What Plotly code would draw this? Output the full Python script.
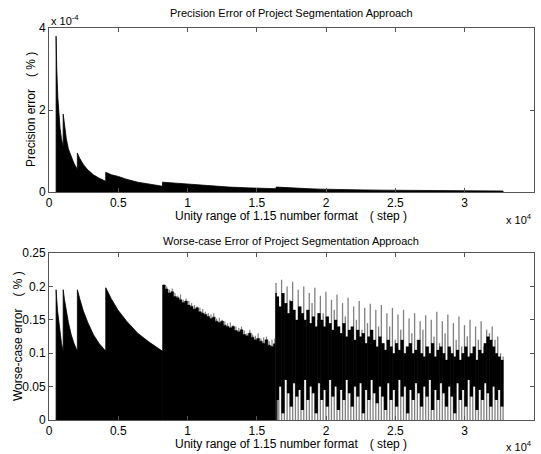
import plotly.graph_objects as go

# ---------------- data ----------------
# Top panel: upper envelope of precision error (units of 1e-4 %)
prec_x = [512, 560, 640, 720, 800, 900, 1023,
          1024, 1100, 1250, 1400, 1600, 1800, 2047,
          2048, 2200, 2500, 2800, 3200, 3600, 4095,
          4096, 4500, 5000, 5600, 6400, 7200, 8191,
          8192, 9000, 10000, 11500, 13000, 14500, 16383,
          16384, 16800, 17400, 18000, 18800, 19600, 20600, 21600,
          22800, 24000, 25500, 27000, 28500, 30000, 31500, 32768]
prec_y = [3.8, 3.0, 2.3, 1.85, 1.55, 1.3, 1.1,
          1.9, 1.65, 1.3, 1.05, 0.85, 0.7, 0.55,
          0.95, 0.83, 0.66, 0.54, 0.42, 0.34, 0.26,
          0.48, 0.42, 0.38, 0.31, 0.24, 0.2, 0.14,
          0.24, 0.22, 0.19, 0.15, 0.12, 0.1, 0.08,
          0.12, 0.11, 0.1, 0.09, 0.08, 0.07, 0.06, 0.055,
          0.05, 0.045, 0.04, 0.035, 0.03, 0.03, 0.025, 0.025]

# Bottom panel: worst-case error (%), segments 1-4 envelope
wc_x = [512, 560, 620, 700, 800, 900, 1023,
        1024, 1120, 1240, 1400, 1600, 1800, 2047,
        2048, 2240, 2480, 2800, 3200, 3600, 4095,
        4096, 4480, 4960, 5600, 6400, 7200, 8191]
wc_y = [0.195, 0.18, 0.163, 0.146, 0.128, 0.115, 0.103,
        0.195, 0.18, 0.163, 0.146, 0.128, 0.115, 0.103,
        0.195, 0.18, 0.163, 0.146, 0.128, 0.115, 0.103,
        0.198, 0.182, 0.165, 0.148, 0.13, 0.117, 0.103]

# segment 5 (8192-16383): black body top and grey spike tops
seg5_x = list(range(8192, 16384, 200)) + [16383]
seg5_top = [0.202, 0.196, 0.19, 0.192, 0.185, 0.183, 0.18, 0.176, 0.178, 0.172,
            0.17, 0.166, 0.168, 0.162, 0.16, 0.158, 0.155, 0.152, 0.154, 0.148,
            0.146, 0.148, 0.142, 0.14, 0.138, 0.14, 0.134, 0.132, 0.135, 0.128,
            0.126, 0.13, 0.124, 0.12, 0.122, 0.118, 0.115, 0.12, 0.112, 0.11,
            0.114, 0.106, 0.108]
seg5_grey = [0.203, 0.2, 0.195, 0.197, 0.19, 0.186, 0.188, 0.18, 0.182, 0.178,
             0.175, 0.172, 0.17, 0.168, 0.166, 0.162, 0.16, 0.158, 0.16, 0.152,
             0.153, 0.15, 0.148, 0.145, 0.146, 0.142, 0.14, 0.138, 0.14, 0.134,
             0.13, 0.135, 0.128, 0.126, 0.13, 0.122, 0.124, 0.125, 0.118, 0.12,
             0.122, 0.112, 0.1]

# segment 6 (16384-32768): noisy spikes
seg6_x = list(range(16384, 32768, 200)) + [32768]
seg6_peak = [0.205, 0.21, 0.2, 0.207, 0.195, 0.2, 0.19, 0.198, 0.186, 0.192,
             0.18, 0.188, 0.175, 0.183, 0.17, 0.178, 0.168, 0.174, 0.165, 0.172,
             0.16, 0.168, 0.158, 0.165, 0.152, 0.16, 0.148, 0.157, 0.15, 0.162,
             0.148, 0.158, 0.145, 0.155, 0.142, 0.15, 0.14, 0.148, 0.135, 0.14,
             0.125, 0.095]
seg6_valley = [0.17, 0.16, 0.18, 0.15, 0.17, 0.14, 0.175, 0.15, 0.16, 0.13,
               0.165, 0.14, 0.155, 0.12, 0.15, 0.135, 0.145, 0.12, 0.14, 0.115,
               0.14, 0.12, 0.135, 0.11, 0.13, 0.12, 0.135, 0.11, 0.125, 0.115,
               0.13, 0.105, 0.12, 0.11, 0.125, 0.1, 0.12, 0.11, 0.13, 0.12, 0.1]
seg6_core_top = [0.185, 0.17, 0.19, 0.175, 0.16, 0.178, 0.165, 0.15, 0.17, 0.16,
                 0.15, 0.165, 0.145, 0.155, 0.14, 0.16, 0.15, 0.14, 0.155, 0.145,
                 0.135, 0.15, 0.14, 0.13, 0.145, 0.125, 0.135, 0.14, 0.12, 0.135,
                 0.125, 0.13, 0.115, 0.125, 0.135, 0.12, 0.11, 0.125, 0.115, 0.105,
                 0.12, 0.11, 0.1, 0.115, 0.105, 0.12, 0.1, 0.11, 0.115, 0.1,
                 0.105, 0.12, 0.1, 0.095, 0.11, 0.1, 0.115, 0.095, 0.105, 0.11,
                 0.1, 0.09, 0.11, 0.1, 0.095, 0.105, 0.09, 0.1, 0.11, 0.095,
                 0.1, 0.11, 0.09, 0.105, 0.1, 0.115, 0.125, 0.12, 0.11, 0.1,
                 0.095, 0.09, 0.09]
seg6_core_low = [0.03, 0.05, 0.01, 0.06, 0.04, 0.02, 0.055, 0.035, 0.045, 0.015,
                 0.06, 0.03, 0.05, 0.04, 0.01, 0.055, 0.03, 0.045, 0.02, 0.06,
                 0.035, 0.05, 0.015, 0.045, 0.03, 0.06, 0.04, 0.02, 0.05, 0.035,
                 0.055, 0.01, 0.045, 0.03, 0.06, 0.04, 0.025, 0.05, 0.035, 0.015,
                 0.055, 0.03, 0.045, 0.02, 0.06, 0.035, 0.05, 0.01, 0.045, 0.03,
                 0.055, 0.04, 0.02, 0.05, 0.035, 0.06, 0.015, 0.045, 0.03, 0.055,
                 0.04, 0.02, 0.05, 0.035, 0.01, 0.055, 0.03, 0.045, 0.02, 0.06,
                 0.035, 0.05, 0.015, 0.045, 0.03, 0.055, 0.04, 0.02, 0.05, 0.03,
                 0.045, 0.02, 0.03]

x_tickvals = [0, 5000, 10000, 15000, 20000, 25000, 30000, 35000]
x_ticktext = ["0", "0.5", "1", "1.5", "2", "2.5", "3", "3.5"]
top_tickvals = [0, 2e-4, 4e-4]
top_ticktext = ["0", "2", "4"]
bot_tickvals = [0, 0.05, 0.1, 0.15, 0.2, 0.25]
bot_ticktext = ["0", "0.05", "0.1", "0.15", "0.2", "0.25"]

# ---------------- figure ----------------
BLACK = "#000000"
GREY = "#808080"
fig = go.Figure()


def vlines(xs, lo, hi, color, width, axes=("x2", "y2")):
    vx, vy = [], []
    for x, a, b in zip(xs, lo, hi):
        vx += [x, x, None]
        vy += [a, b, None]
    fig.add_trace(go.Scatter(x=vx, y=vy, mode="lines", line=dict(color=color, width=width),
                             xaxis=axes[0], yaxis=axes[1], hoverinfo="skip"))


# top panel
fig.add_trace(go.Scatter(x=[prec_x[0]] + prec_x + [prec_x[-1]],
                         y=[0] + [v * 1e-4 for v in prec_y] + [0],
                         mode="lines", fill="tozeroy", fillcolor=BLACK,
                         line=dict(color=BLACK, width=0.8),
                         xaxis="x", yaxis="y", hoverinfo="skip"))

# bottom panel, segments 1-4
fig.add_trace(go.Scatter(x=[wc_x[0]] + wc_x + [wc_x[-1]], y=[0] + wc_y + [0],
                         mode="lines", fill="tozeroy", fillcolor=BLACK,
                         line=dict(color=BLACK, width=0.8),
                         xaxis="x2", yaxis="y2", hoverinfo="skip"))

# segment 5: grey spikes then black body (stepped)
vlines([x + 100 for x in seg5_x], [0] * len(seg5_x), seg5_grey, GREY, 1.2)
fig.add_trace(go.Scatter(x=[seg5_x[0]] + seg5_x + [seg5_x[-1]], y=[0] + seg5_top + [0],
                         mode="lines", line_shape="hv", fill="tozeroy", fillcolor=BLACK,
                         line=dict(color=BLACK, width=0.5),
                         xaxis="x2", yaxis="y2", hoverinfo="skip"))

# segment 6: grey spikes, black core
spikes = []
pi_, vi_ = 0, 0
for i in range(len(seg6_x)):
    if i % 2 == 0:
        spikes.append(seg6_peak[pi_]); pi_ += 1
    else:
        spikes.append(seg6_valley[vi_]); vi_ += 1
vlines(seg6_x, [0] * len(seg6_x), spikes, GREY, 1.3)
vlines([x + 100 for x in seg6_x[:-1]], seg6_core_low[:-1], seg6_core_top[:-1], BLACK, 3.2)
vlines([16384], [0], [0.19], BLACK, 1.5)

FONT = "Liberation Sans, Arial, sans-serif"
AX = "#555555"
axis_common = dict(showgrid=False, zeroline=False, showline=True, linecolor=AX, linewidth=1,
                   mirror="ticks", ticks="inside", ticklen=4, tickcolor=AX, automargin=False,
                   tickfont=dict(family=FONT, size=12, color="#000"))

fig.update_layout(
    width=541, height=454, showlegend=False,
    paper_bgcolor="white", plot_bgcolor="white",
    margin=dict(l=49, r=7, t=28, b=34, autoexpand=False),
    xaxis=dict(domain=[0, 1], range=[0, 35000], tickvals=x_tickvals, ticktext=x_ticktext,
               anchor="y", **axis_common),
    yaxis=dict(domain=[0.5816, 1], range=[0, 4e-4], tickvals=top_tickvals, ticktext=top_ticktext,
               anchor="x", **axis_common),
    xaxis2=dict(domain=[0, 1], range=[0, 35000], tickvals=x_tickvals, ticktext=x_ticktext,
                anchor="y2", **axis_common),
    yaxis2=dict(domain=[0, 0.426], range=[0, 0.25], tickvals=bot_tickvals, ticktext=bot_ticktext,
                anchor="x2", **axis_common),
)


def ann(text, x, y, size=12, angle=0, xanchor="center", yanchor="middle"):
    fig.add_annotation(text=text, x=x, y=y, xref="paper", yref="paper", showarrow=False,
                       textangle=angle, xanchor=xanchor, yanchor=yanchor,
                       font=dict(family=FONT, size=size, color="#000"))


W, H, L, B = 485.0, 392.0, 49.0, 420.0
def px(x): return (x - L) / W
def py(y): return (B - y) / H


ann("Precision Error of Project Segmentation Approach", px(291), py(13), size=11)
ann("Unity range of 1.15 number format　( step )", px(291), py(216), size=12)
ann("Precision error　( % )", px(31), py(110), size=12, angle=-90)
ann("x 10<sup>-4</sup>", px(49), py(20), size=11, xanchor="left")
ann("x 10<sup>4</sup>", px(534), py(219), size=11, xanchor="right")

ann("Worse-case Error of Project Segmentation Approach", px(291), py(241), size=11)
ann("Unity range of 1.15 number format　( step )", px(291), py(444), size=12)
ann("Worse-case error　( % )", px(18), py(336), size=12, angle=-90)
ann("x 10<sup>4</sup>", px(534), py(446), size=11, xanchor="right")

fig.write_html("out.html", config={"displayModeBar": False},
               post_script="document.body.style.margin='0';document.body.style.overflow='hidden';")
